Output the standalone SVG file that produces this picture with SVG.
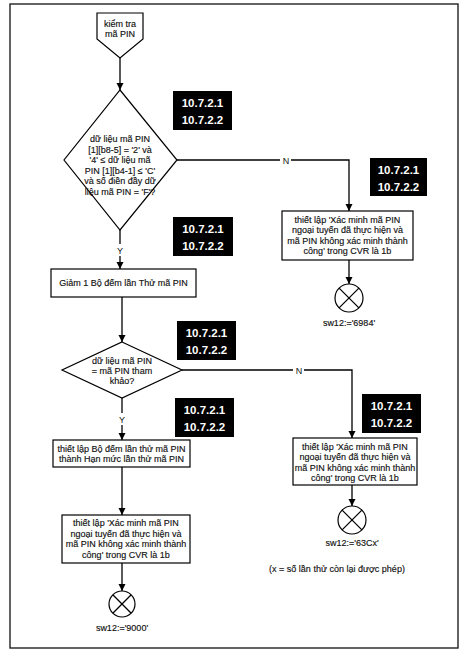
<svg xmlns="http://www.w3.org/2000/svg" width="470" height="653" viewBox="0 0 470 653">
<defs>
<marker id="ah" viewBox="0 0 10 10" refX="10" refY="5" markerWidth="7" markerHeight="9" markerUnits="userSpaceOnUse" orient="auto"><path d="M0,0 L10,5 L0,10 z" fill="#000"/></marker>
</defs>
<style>
.sh{fill:#fff;stroke:#000;stroke-width:1.2}
.t{font-family:"Liberation Sans",Arial,sans-serif;font-size:9px;fill:#111;stroke:#111;stroke-width:0.15;text-anchor:middle}
.ln{fill:none;stroke:#000;stroke-width:1.3}
.lbl{fill:#000}
.lt{font-family:"Liberation Sans",Arial,sans-serif;font-size:11.5px;font-weight:bold;fill:#fff;text-anchor:middle}
.yn{font-family:"Liberation Sans",Arial,sans-serif;font-size:9px;fill:#111;text-anchor:middle}
</style>
<rect x="0" y="0" width="470" height="653" fill="#fff"/>
<rect x="10" y="4" width="448" height="644" fill="none" stroke="#222" stroke-width="1.4"/>

<g id="connectors">
<line class="ln" x1="120" y1="58" x2="120" y2="90" marker-end="url(#ah)"/>
<polyline class="ln" points="177,160 349,160 349,211" marker-end="url(#ah)"/>
<line class="ln" x1="349" y1="260" x2="349" y2="284" marker-end="url(#ah)"/>
<line class="ln" x1="120" y1="230" x2="120" y2="269" marker-end="url(#ah)"/>
<line class="ln" x1="122" y1="297" x2="122" y2="342" marker-end="url(#ah)"/>
<polyline class="ln" points="182,370 352,370 352,438" marker-end="url(#ah)"/>
<line class="ln" x1="122" y1="398" x2="122" y2="440" marker-end="url(#ah)"/>
<line class="ln" x1="122" y1="467" x2="122" y2="515" marker-end="url(#ah)"/>
<line class="ln" x1="122" y1="563" x2="122" y2="591" marker-end="url(#ah)"/>
<line class="ln" x1="352" y1="485" x2="352" y2="506" marker-end="url(#ah)"/>
<rect x="280" y="154" width="11" height="12" fill="#fff"/>
<text class="yn" x="286" y="163.5">N</text>
<rect x="293" y="364" width="11" height="12" fill="#fff"/>
<text class="yn" x="299" y="373.5">N</text>
<rect x="115" y="244" width="10" height="12" fill="#fff"/>
<text class="yn" x="120" y="253.5">Y</text>
<rect x="117" y="413" width="10" height="12" fill="#fff"/>
<text class="yn" x="122" y="422.5">Y</text>
</g>

<g id="start">
<polygon class="sh" points="97,13 143,13 143,39 120,58 97,39"/>
<text class="t" x="120" y="27">kiểm tra</text>
<text class="t" x="120" y="37">mã PIN</text>
</g>

<g id="decision1">
<polygon class="sh" points="120,90 177,160 120,230 64,160"/>
<text class="t" x="120" y="142">dữ liệu mã PIN</text>
<text class="t" x="120" y="152.5">[1][b8-5] = '2' và</text>
<text class="t" x="120" y="163">'4' ≤ dữ liệu mã</text>
<text class="t" x="120" y="173.5">PIN [1][b4-1] ≤ 'C'</text>
<text class="t" x="120" y="184">và số điền đầy dữ</text>
<text class="t" x="120" y="194.5">liệu mã PIN = 'F'?</text>
</g>

<g id="ref1"><rect class="lbl" x="173" y="91" width="59" height="39"/><text class="lt" x="202.5" y="107">10.7.2.1</text><text class="lt" x="202.5" y="124">10.7.2.2</text></g>
<g id="ref2"><rect class="lbl" x="173" y="217" width="60" height="39"/><text class="lt" x="203" y="233">10.7.2.1</text><text class="lt" x="203" y="250">10.7.2.2</text></g>
<g id="ref3"><rect class="lbl" x="370" y="158" width="57" height="38"/><text class="lt" x="398.5" y="173.5">10.7.2.1</text><text class="lt" x="398.5" y="190.5">10.7.2.2</text></g>
<g id="ref4"><rect class="lbl" x="177" y="321" width="59" height="39"/><text class="lt" x="206.5" y="337">10.7.2.1</text><text class="lt" x="206.5" y="354">10.7.2.2</text></g>
<g id="ref5"><rect class="lbl" x="175" y="398" width="59" height="39"/><text class="lt" x="204.5" y="414">10.7.2.1</text><text class="lt" x="204.5" y="431">10.7.2.2</text></g>
<g id="ref6"><rect class="lbl" x="362" y="394" width="59" height="39"/><text class="lt" x="391.5" y="410">10.7.2.1</text><text class="lt" x="391.5" y="427">10.7.2.2</text></g>

<g id="setCVR1">
<rect class="sh" x="282" y="211" width="131" height="49"/>
<text class="t" x="347.5" y="222.5">thiết lập 'Xác minh mã PIN</text>
<text class="t" x="347.5" y="233">ngoại tuyến đã thực hiện và</text>
<text class="t" x="347.5" y="243.5">mã PIN không xác minh thành</text>
<text class="t" x="347.5" y="254">công' trong CVR là 1b</text>
</g>

<g id="end6984">
<circle class="sh" cx="349" cy="298" r="14"/>
<path class="ln" d="M339.1,288.1 L358.9,307.9 M358.9,288.1 L339.1,307.9"/>
<text class="t" x="349" y="326">sw12:='6984'</text>
</g>

<g id="decrement">
<rect class="sh" x="51" y="269" width="145" height="28"/>
<text class="t" x="123.5" y="286">Giảm 1 Bộ đếm lần Thử mã PIN</text>
</g>

<g id="decision2">
<polygon class="sh" points="122,342 182,370 122,398 62,370"/>
<text class="t" x="122" y="364">dữ liệu mã PIN</text>
<text class="t" x="122" y="374">= mã PIN tham</text>
<text class="t" x="122" y="384">khảo?</text>
</g>

<g id="resetCounter">
<rect class="sh" x="53" y="440" width="137" height="27"/>
<text class="t" x="121.5" y="451.5">thiết lập Bộ đếm lần thử mã PIN</text>
<text class="t" x="121.5" y="462">thành Hạn mức lần thử mã PIN</text>
</g>

<g id="setCVR2">
<rect class="sh" x="62" y="515" width="128" height="48"/>
<text class="t" x="126" y="526">thiết lập 'Xác minh mã PIN</text>
<text class="t" x="126" y="536.5">ngoại tuyến đã thực hiện và</text>
<text class="t" x="126" y="547">mã PIN không xác minh thành</text>
<text class="t" x="126" y="557.5">công' trong CVR là 1b</text>
</g>

<g id="end9000">
<circle class="sh" cx="122" cy="604" r="13"/>
<path class="ln" d="M112.8,594.8 L131.2,613.2 M131.2,594.8 L112.8,613.2"/>
<text class="t" x="122" y="631">sw12:='9000'</text>
</g>

<g id="setCVR3">
<rect class="sh" x="293" y="438" width="124" height="47"/>
<text class="t" x="355" y="449.5">thiết lập 'Xác minh mã PIN</text>
<text class="t" x="355" y="460">ngoại tuyến đã thực hiện và</text>
<text class="t" x="355" y="470.5">mã PIN không xác minh thành</text>
<text class="t" x="355" y="481">công' trong CVR là 1b</text>
</g>

<g id="end63Cx">
<circle class="sh" cx="352" cy="520" r="14"/>
<path class="ln" d="M342.1,510.1 L361.9,529.9 M361.9,510.1 L342.1,529.9"/>
<text class="t" x="352" y="546">sw12:='63Cx'</text>
<text class="t" x="337" y="572">(x = số lần thử còn lại được phép)</text>
</g>
</svg>
